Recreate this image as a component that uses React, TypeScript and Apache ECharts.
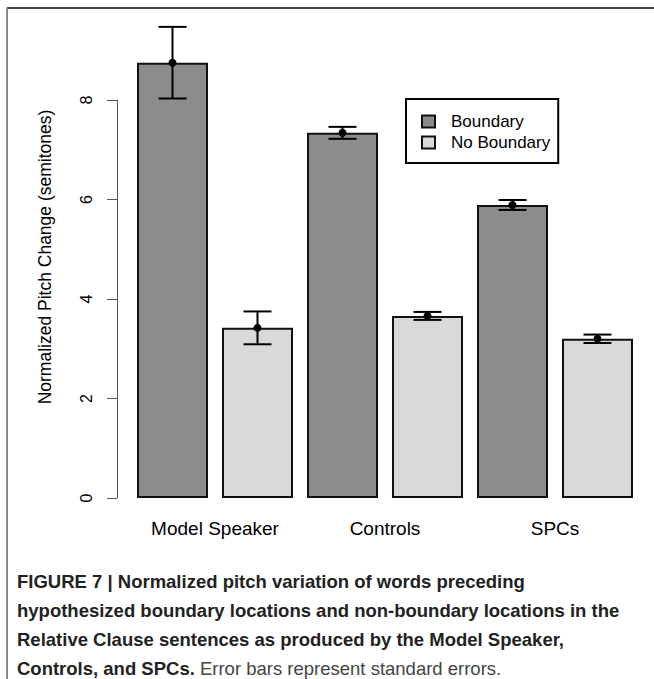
import React, { useEffect, useRef } from "react";
import * as echarts from "echarts";

const categories = ["Model Speaker", "Controls", "SPCs"];
const seriesNames = ["Boundary", "No Boundary"];
const boundaryMeans = [8.75, 7.34, 5.89];
const boundarySE = [0.72, 0.12, 0.1];
const noBoundaryMeans = [3.42, 3.66, 3.2];
const noBoundarySE = [0.33, 0.08, 0.085];
const yAxisTitle = "Normalized Pitch Change (semitones)";
const captionLines = [
  "FIGURE 7 | Normalized pitch variation of words preceding",
  "hypothesized boundary locations and non-boundary locations in the",
  "Relative Clause sentences as produced by the Model Speaker,",
];
const captionLastBold = "Controls, and SPCs.";
const captionLastNormal = "Error bars represent standard errors.";

const FONT = '"Liberation Sans", Arial, Helvetica, sans-serif';

function errorSeries(means: number[], ses: number[], side: number): any {
  return {
    type: "custom",
    data: means.map((m, i) => [i, m, ses[i]]),
    clip: false,
    z: 5,
    silent: true,
    renderItem: (params: any, api: any) => {
      const i = api.value(0);
      const m = api.value(1);
      const s = api.value(2);
      const band = api.size([1, 0])[0];
      const off = side * band * 0.25;
      const top = api.coord([i, m + s]);
      const bot = api.coord([i, m - s]);
      const mid = api.coord([i, m]);
      const x = mid[0] + off;
      const cap = 14;
      const st = { stroke: "#000", lineWidth: 2 };
      return {
        type: "group",
        children: [
          { type: "line", shape: { x1: x, y1: top[1], x2: x, y2: bot[1] }, style: st },
          { type: "line", shape: { x1: x - cap, y1: top[1], x2: x + cap, y2: top[1] }, style: st },
          { type: "line", shape: { x1: x - cap, y1: bot[1], x2: x + cap, y2: bot[1] }, style: st },
          { type: "circle", shape: { cx: x, cy: mid[1], r: 4 }, style: { fill: "#000" } },
        ],
      };
    },
  };
}

export default function App() {
  const ref = useRef<HTMLDivElement>(null);
  useEffect(() => {
    if (!ref.current) return;
    const chart = echarts.init(ref.current, null, { renderer: "svg" });
    const capY = [581, 610, 639];
    const option: any = {
      animation: false,
      backgroundColor: "#fff",
      textStyle: { fontFamily: FONT },
      grid: { left: 130, width: 510, top: 100, height: 398, containLabel: false },
      legend: {
        data: seriesNames,
        orient: "vertical",
        left: 406,
        top: 99,
        selectedMode: false,
        icon: "rect",
        itemWidth: 13,
        itemHeight: 12,
        itemGap: 4,
        borderColor: "#000",
        borderWidth: 2,
        borderRadius: 0,
        padding: [14, 8, 12, 15],
        textStyle: { fontSize: 17, color: "#000", fontFamily: FONT, lineHeight: 17, padding: [0, 0, 0, 11] },
      },
      xAxis: {
        type: "category",
        data: categories,
        axisLine: { show: false },
        axisTick: { show: false },
        axisLabel: { fontSize: 19, color: "#000", margin: 21, fontFamily: FONT },
      },
      yAxis: {
        type: "value",
        min: 0,
        max: 8,
        interval: 2,
        offset: 13,
        name: yAxisTitle,
        nameLocation: "middle",
        nameRotate: 90,
        nameGap: 63,
        nameTextStyle: { fontSize: 17.5, color: "#000", fontFamily: FONT, padding: [0, 0, 0, 84] },
        axisLine: { show: true, lineStyle: { color: "#555", width: 1 } },
        axisTick: { show: true, length: 10, lineStyle: { color: "#555", width: 1 } },
        axisLabel: { rotate: 90, fontSize: 16, color: "#000", margin: 23, fontFamily: FONT },
        splitLine: { show: false },
      },
      series: [
        {
          name: seriesNames[0],
          type: "bar",
          data: boundaryMeans,
          barWidth: 71,
          barGap: "19.7%",
          clip: false,
          itemStyle: { color: "#8c8c8c", borderColor: "#111", borderWidth: 2 },
        },
        {
          name: seriesNames[1],
          type: "bar",
          data: noBoundaryMeans,
          barWidth: 71,
          barGap: "19.7%",
          clip: false,
          itemStyle: { color: "#d9d9d9", borderColor: "#111", borderWidth: 2 },
        },
        errorSeries(boundaryMeans, boundarySE, -1),
        errorSeries(noBoundaryMeans, noBoundarySE, 1),
      ],
      graphic: [
        { type: "line", shape: { x1: 7, y1: 8, x2: 654, y2: 8 }, style: { stroke: "#444", lineWidth: 2 } },
        { type: "line", shape: { x1: 7, y1: 8, x2: 7, y2: 679 }, style: { stroke: "#888", lineWidth: 2 } },
        ...captionLines.map((t, k) => ({
          type: "text",
          x: 17,
          y: capY[k],
          style: {
            text: t,
            fill: "#222",
            font: `bold 18.5px ${FONT}`,
            verticalAlign: "middle",
          },
        })),
        {
          type: "text",
          x: 17,
          y: 668,
          style: {
            text: `{b|${captionLastBold}} {n|${captionLastNormal}}`,
            verticalAlign: "middle",
            rich: {
              b: { fill: "#222", fontWeight: "bold", fontSize: 18.5, fontFamily: FONT },
              n: { fill: "#444", fontWeight: "normal", fontSize: 18.5, fontFamily: FONT },
            },
            fill: "#222",
            font: `18.5px ${FONT}`,
          },
        },
      ],
    };
    chart.setOption(option);
    return () => chart.dispose();
  }, []);
  return (
    <div
      ref={ref}
      style={{ position: "absolute", left: 0, top: 0, width: 654, height: 679 }}
    />
  );
}
